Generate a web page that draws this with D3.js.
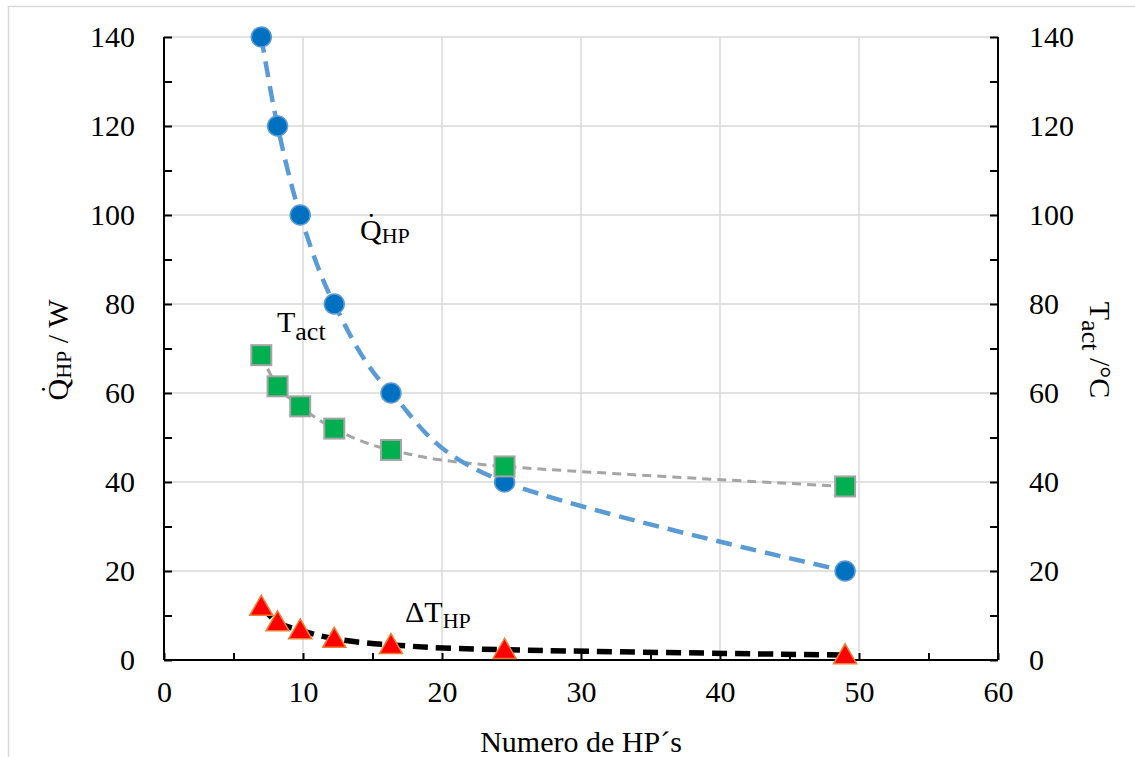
<!DOCTYPE html>
<html>
<head>
<meta charset="utf-8">
<script src="https://cdn.jsdelivr.net/npm/d3@7"></script>
<style>
  body { margin: 0; background: #fff; }
</style>
</head>
<body>
<div id="chart"></div>
<script>
// numero de HP's
var nHP = [7, 8.17, 9.8, 12.25, 16.33, 24.5, 49];
// Q_HP / W
var qHP = [140, 120, 100, 80, 60, 40, 20];
// T_act / °C (eje derecho)
var tAct = [68.5, 61.5, 57, 52, 47.2, 43.5, 39];
// Delta T_HP
var dTHP = [12, 8.5, 6.7, 4.8, 3.4, 2.3, 1.1];

var xTicks = [0, 10, 20, 30, 40, 50, 60];
var yTicks = [0, 20, 40, 60, 80, 100, 120, 140];

var width = 1135, height = 757;
var mLeft = 164, mRight = 998, mTop = 37, mBottom = 660;
var serif = "'Liberation Serif', 'Times New Roman', 'DejaVu Serif', serif";

var svg = d3.select("#chart").append("svg")
    .attr("width", width).attr("height", height)
    .style("font-family", serif);

// chart frame
svg.append("rect")
    .attr("x", 8.5).attr("y", 6.5)
    .attr("width", width + 10).attr("height", height + 10)
    .attr("fill", "none").attr("stroke", "#D9D9D9").attr("stroke-width", 1.5);

var x = d3.scaleLinear().domain([0, 60]).range([mLeft, mRight]);
var yL = d3.scaleLinear().domain([0, 140]).range([mBottom, mTop]);
var yR = d3.scaleLinear().domain([0, 140]).range([mBottom, mTop]);

// grid
svg.append("g").selectAll("line")
    .data(yTicks.filter(d => d > 0))
    .enter().append("line")
    .attr("x1", mLeft).attr("x2", mRight)
    .attr("y1", d => yL(d)).attr("y2", d => yL(d))
    .attr("stroke", "#D9D9D9").attr("stroke-width", 1.5);

svg.append("g").selectAll("line")
    .data(xTicks.filter(d => d > 0 && d < 60))
    .enter().append("line")
    .attr("x1", d => x(d)).attr("x2", d => x(d))
    .attr("y1", mTop).attr("y2", mBottom)
    .attr("stroke", "#D9D9D9").attr("stroke-width", 1.5);

// axes
var xAxis = svg.append("g")
    .attr("transform", "translate(0," + mBottom + ")")
    .call(d3.axisBottom(x).tickValues(d3.range(0, 61, 5)).tickSize(-7).tickPadding(21)
        .tickFormat(d => d % 10 == 0 ? d : ""));
var yAxisL = svg.append("g")
    .attr("transform", "translate(" + mLeft + ",0)")
    .call(d3.axisLeft(yL).tickValues(d3.range(0, 141, 10)).tickSize(-8).tickPadding(29)
        .tickFormat(d => d % 20 == 0 ? d : ""));
var yAxisR = svg.append("g")
    .attr("transform", "translate(" + mRight + ",0)")
    .call(d3.axisRight(yR).tickValues(d3.range(0, 141, 10)).tickSize(-8).tickPadding(31)
        .tickFormat(d => d % 20 == 0 ? d : ""));

[xAxis, yAxisL, yAxisR].forEach(function(g) {
  g.attr("font-family", serif).attr("font-size", 30);
  g.select(".domain").attr("stroke", "#000").attr("stroke-width", 2);
  g.selectAll(".tick line").attr("stroke", "#000").attr("stroke-width", 2);
  g.selectAll(".tick text").attr("fill", "#000");
});
xAxis.select(".domain").attr("d", "M" + mLeft + ",0H" + mRight);
yAxisL.select(".domain").attr("d", "M0," + mBottom + "V" + mTop);
yAxisR.select(".domain").attr("d", "M0," + mBottom + "V" + mTop);

function pts(vals) { return nHP.map((n, i) => [n, vals[i]]); }
var line = d3.line().x(d => x(d[0])).y(d => yL(d[1])).curve(d3.curveCardinal.tension(0));

// series lines
svg.append("path").attr("d", line(pts(tAct)))
    .attr("fill", "none").attr("stroke", "#A5A5A5").attr("stroke-width", 3)
    .attr("stroke-dasharray", "9,6");
svg.append("path").attr("d", line(pts(qHP)))
    .attr("fill", "none").attr("stroke", "#5B9BD5").attr("stroke-width", 4.5)
    .attr("stroke-dasharray", "16,9");
svg.append("path").attr("d", line(pts(dTHP)))
    .attr("fill", "none").attr("stroke", "#000").attr("stroke-width", 5.5)
    .attr("stroke-dasharray", "15,8");

// markers
svg.append("g").selectAll("circle")
    .data(pts(qHP)).enter().append("circle")
    .attr("cx", d => x(d[0])).attr("cy", d => yL(d[1])).attr("r", 10)
    .attr("fill", "#0070C0").attr("stroke", "#5B9BD5").attr("stroke-width", 1.5);

svg.append("g").selectAll("rect")
    .data(pts(tAct)).enter().append("rect")
    .attr("x", d => x(d[0]) - 10).attr("y", d => yR(d[1]) - 10)
    .attr("width", 20).attr("height", 20)
    .attr("fill", "#00B050").attr("stroke", "#A5A5A5").attr("stroke-width", 2);

var tri = d3.symbol().type(d3.symbolTriangle).size(230);
svg.append("g").selectAll("path")
    .data(pts(dTHP)).enter().append("path")
    .attr("d", tri)
    .attr("transform", d => "translate(" + x(d[0]) + "," + (yL(d[1]) + 2) + ")")
    .attr("fill", "#FF0000").attr("stroke", "#ED7D31").attr("stroke-width", 1.5);

// series labels
var lq = svg.append("text").attr("x", 360).attr("y", 240).attr("font-size", 30);
lq.append("tspan").text("Q\u0307");
lq.append("tspan").attr("font-size", 22).attr("dy", 3).text("HP");

var lt = svg.append("text").attr("x", 277).attr("y", 332).attr("font-size", 30);
lt.append("tspan").text("T");
lt.append("tspan").attr("font-size", 26).attr("dy", 8).text("act");

var ld = svg.append("text").attr("x", 405).attr("y", 622).attr("font-size", 30);
ld.append("tspan").text("\u0394T");
ld.append("tspan").attr("font-size", 22).attr("dy", 6).text("HP");

// axis titles
svg.append("text").attr("x", x(30)).attr("y", 752)
    .attr("text-anchor", "middle").attr("font-size", 30).text("Numero de HP\u00B4s");

var tl = svg.append("text").attr("transform", "translate(68,350) rotate(-90)")
    .attr("text-anchor", "middle").attr("font-size", 30);
tl.append("tspan").text("Q\u0307");
tl.append("tspan").attr("font-size", 22).attr("dy", 3).text("HP");
tl.append("tspan").attr("dy", -3).text(" / W");

var tr = svg.append("text").attr("transform", "translate(1090,350) rotate(90)")
    .attr("text-anchor", "middle").attr("font-size", 30);
tr.append("tspan").text("T");
tr.append("tspan").attr("font-size", 26).attr("dy", 8).text("act");
tr.append("tspan").attr("dy", -8).text(" /\u00B0C");
</script>
</body>
</html>
